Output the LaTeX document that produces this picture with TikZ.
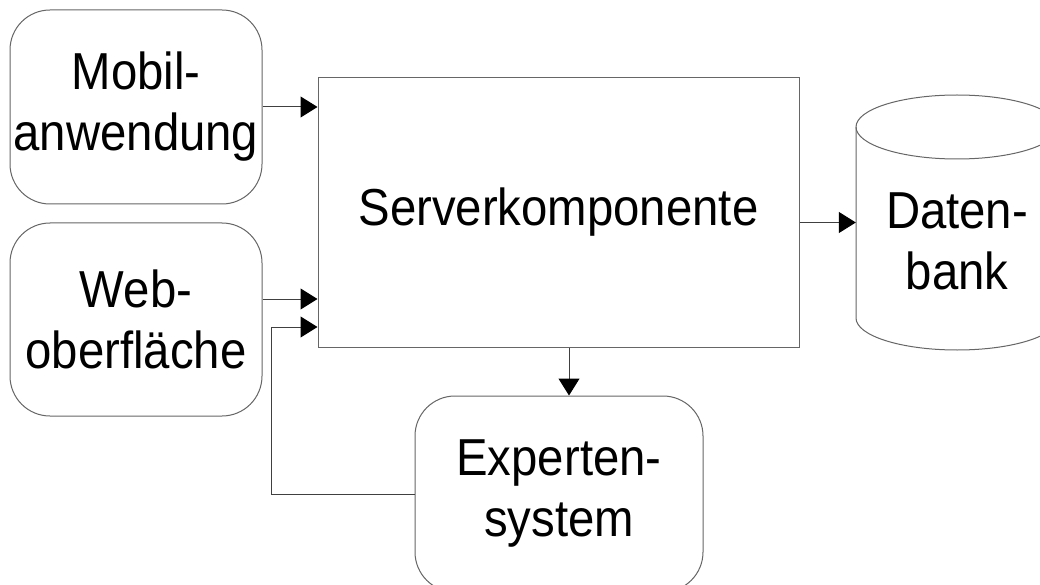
\documentclass[tikz,border=0pt]{standalone}
\usepackage{fontspec}
\setmainfont{Liberation Sans}[FakeStretch=0.91]
\usetikzlibrary{arrows.meta}
\newcommand\lbltxt{\fontsize{52pt}{61pt}\selectfont}
\begin{document}
\begin{tikzpicture}[x=1pt,y=-1pt,
  box/.style={draw=black!60, line width=1pt, rounded corners=40pt, align=center, font=\lbltxt, inner sep=0pt},
  srvbox/.style={draw=black!60, line width=1pt, align=center, font=\lbltxt, inner sep=0pt},
  txt/.style={align=center, font=\lbltxt, inner sep=0pt},
  conn/.style={draw=black!75, line width=1pt, -{Triangle[length=17pt,width=21pt,color=black]}},
  outline/.style={draw=black!60, line width=1pt}]
\useasboundingbox (0,0) rectangle (1040,585);
\clip (0,0) rectangle (1040,585);
\fill[white] (0,0) rectangle (1040,585);
\node[box, minimum width=252pt, minimum height=194pt] (mob) at (136,107) {Mobil-\\anwendung};
\node[box, minimum width=252pt, minimum height=193pt] (web) at (136,319.5) {Web-\\oberfläche};
\node[srvbox, minimum width=481pt, minimum height=269pt] (srv) at (558.5,212.5) {\raisebox{-3pt}{Serverkomponente}};
\node[box, minimum width=288pt, minimum height=196pt] (exp) at (559,494) {Experten-\\system};
\node[inner sep=0pt, minimum width=202pt, minimum height=255pt] (db) at (957,222.5) {};
\node[txt] (dbtxt) at (957,241) {Daten-\\bank};
% cylinder
\draw[outline] (957,127) ellipse [x radius=101pt, y radius=32pt];
\draw[outline] (856,127) -- (856,318) arc[start angle=180, end angle=360, x radius=101pt, y radius=32pt] -- (1058,127);
% connectors
\coordinate (fb) at (271,327);
\coordinate (dx) at (569,0);
\draw[conn] (mob.east) -- (mob.east -| srv.west);
\draw[conn] ([yshift=20.5pt]web.east) -- ([yshift=20.5pt]web.east -| srv.west);
\draw[conn] (exp.west) -| (fb) -- (fb -| srv.west);
\draw[conn] (srv.south -| dx) -- (exp.north -| dx);
\draw[conn] (srv.east |- db.west) -- (db.west);
\end{tikzpicture}
\end{document}
